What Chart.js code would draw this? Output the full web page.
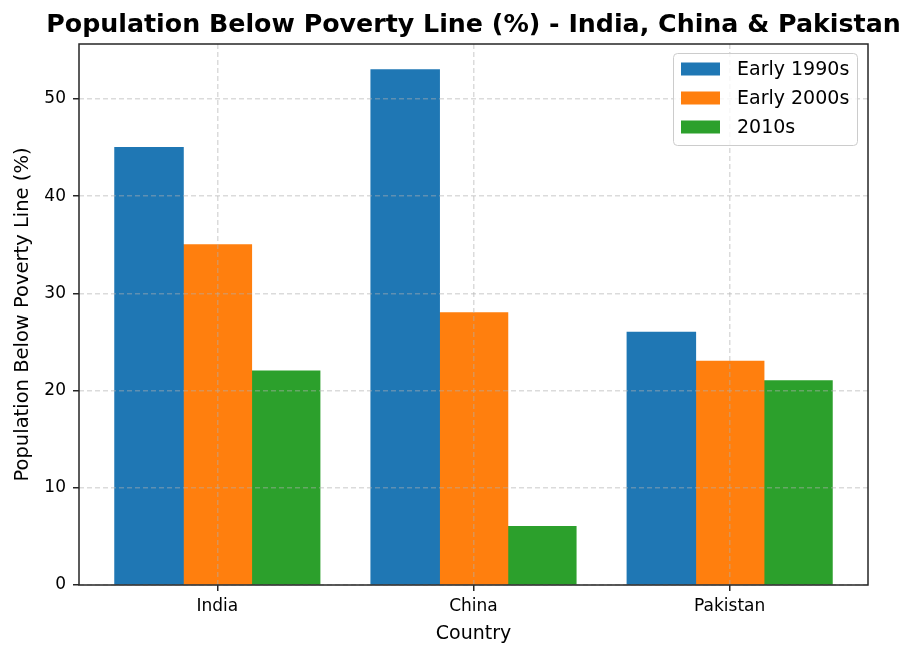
<!DOCTYPE html>
<html>
<head>
<meta charset="utf-8">
<script src="https://cdn.jsdelivr.net/npm/chart.js@4/dist/chart.umd.min.js"></script>
<style>
html,body{margin:0;padding:0;background:#fff;}
#wrap{width:914px;height:657px;}
</style>
</head>
<body>
<div id="wrap"><canvas id="c" width="914" height="657"></canvas></div>
<script>
const titleText = "Population Below Poverty Line (%) - India, China & Pakistan";
const categories = ["India", "China", "Pakistan"];
const seriesNames = ["Early 1990s", "Early 2000s", "2010s"];
const early1990s = [45, 53, 26];
const early2000s = [35, 28, 23];
const y2010s = [22, 6, 21];
const yTicks = [0, 10, 20, 30, 40, 50];
const colors = ["#1f77b4", "#ff7f0e", "#2ca02c"];
const FONT = "'DejaVu Sans', sans-serif";

const seriesValues = [early1990s, early2000s, y2010s];
const datasets = seriesNames.map((name, s) => ({
  label: name,
  data: categories.map((c, i) => ({x: i, y: seriesValues[s][i]})),
  backgroundColor: colors[s],
  borderWidth: 0,
  inflateAmount: 0.6,
  categoryPercentage: 0.8,
  barPercentage: 1.0
}));

const SPINE = "#262626";
const GRID = "rgba(176,176,176,0.45)";

const framePlugin = {
  id: 'frame',
  afterDraw(chart) {
    const ctx = chart.ctx, a = chart.chartArea;
    ctx.save();
    ctx.strokeStyle = SPINE;
    ctx.lineWidth = 1.5;
    ctx.strokeRect(a.left, a.top, a.right - a.left, a.bottom - a.top);
    // title
    ctx.fillStyle = "#000";
    ctx.font = "bold 25.3px " + FONT;
    ctx.textAlign = "center";
    ctx.textBaseline = "middle";
    ctx.fillText(titleText, (a.left + a.right) / 2, 25);
    // legend
    const bw = 184, bh = 92;
    const bx = a.right - 11 - bw, by = a.top + 9;
    ctx.fillStyle = "rgba(255,255,255,0.8)";
    ctx.strokeStyle = "#cccccc";
    ctx.lineWidth = 1;
    ctx.beginPath();
    ctx.roundRect(bx + 0.5, by + 0.5, bw, bh, 4);
    ctx.fill();
    ctx.stroke();
    ctx.font = "19px " + FONT;
    ctx.textBaseline = "middle";
    ctx.textAlign = "left";
    chart.data.datasets.forEach((ds, i) => {
      const cy = by + 16 + i * 29;
      ctx.fillStyle = ds.backgroundColor;
      ctx.fillRect(bx + 8, cy - 6.5, 39, 13);
      ctx.fillStyle = "#000";
      ctx.fillText(ds.label, bx + 64, cy + 1);
    });
    ctx.restore();
  }
};

new Chart(document.getElementById('c'), {
  type: 'bar',
  data: { datasets },
  plugins: [framePlugin],
  options: {
    responsive: false,
    animation: false,
    layout: { padding: { left: 0, right: 46, top: 44, bottom: 0 } },
    plugins: {
      legend: { display: false },
      tooltip: { enabled: false },
      title: { display: false }
    },
    scales: {
      x: {
        type: 'linear',
        offset: false,
        min: -0.54,
        max: 2.54,
        afterBuildTicks(scale) { scale.ticks = categories.map((c, i) => ({ value: i })); },
        afterFit(scale) { scale.height = 72; },
        ticks: {
          color: "#000",
          font: { family: FONT, size: 17 },
          padding: 5,
          maxRotation: 0,
          autoSkip: false,
          callback: (v) => categories[v] ?? ""
        },
        grid: {
          offset: false,
          color: GRID, lineWidth: 1.5, z: 1,
          tickColor: SPINE, tickLength: 6, tickWidth: 1.5, tickBorderDash: []
        },
        border: { display: false, dash: [5, 3] },
        title: {
          display: true, text: "Country", color: "#000",
          font: { family: FONT, size: 19 },
          padding: { top: 0, bottom: 12 }
        }
      },
      y: {
        min: 0,
        max: 55.65,
        afterBuildTicks(scale) { scale.ticks = yTicks.map(v => ({ value: v })); },
        afterFit(scale) { scale.width = 79; },
        ticks: {
          color: "#000",
          font: { family: FONT, size: 17 },
          padding: 7,
          includeBounds: false,
          callback: (v) => String(v)
        },
        grid: {
          offset: false,
          color: GRID, lineWidth: 1.5, z: 1,
          tickColor: SPINE, tickLength: 6, tickWidth: 1.5, tickBorderDash: []
        },
        border: { display: false, dash: [5, 3] },
        title: {
          display: true, text: "Population Below Poverty Line (%)", color: "#000",
          font: { family: FONT, size: 19.5 },
          padding: { top: 11, bottom: 0 }
        }
      }
    }
  }
});
</script>
</body>
</html>
